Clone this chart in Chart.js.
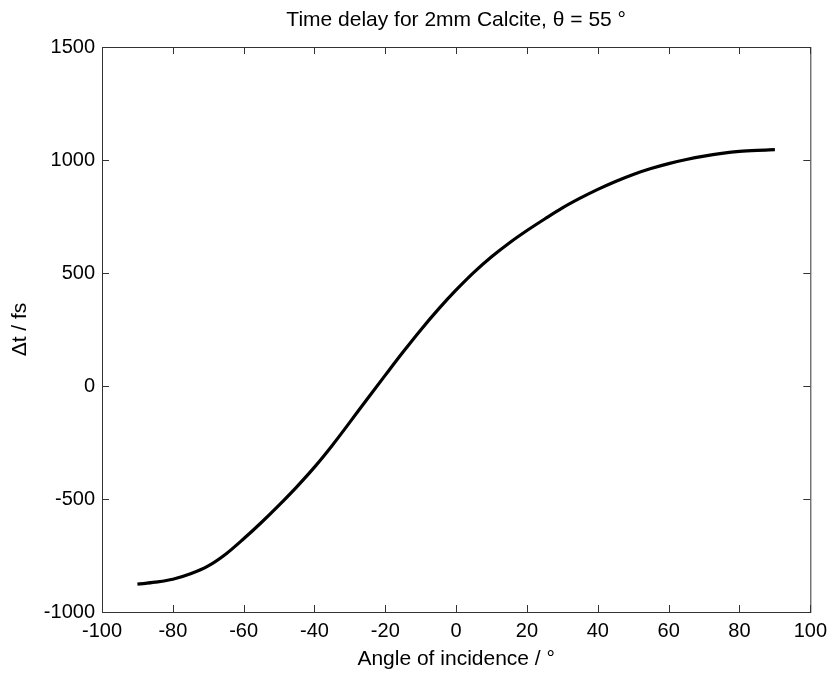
<!DOCTYPE html>
<html>
<head>
<meta charset="utf-8">
<script src="https://cdn.jsdelivr.net/npm/chart.js@4"></script>
<style>
  html, body { margin: 0; padding: 0; background: #fff; }
  #wrap { width: 834px; height: 673px; }
</style>
</head>
<body>
<div id="wrap"><canvas id="myChart" width="834" height="673"></canvas></div>
<script>
// angle of incidence (degrees)
const angles = [-90, -85, -80, -75, -70, -65, -60, -55, -50, -45, -40, -35, -30, -25, -20, -15, -10, -5,
    0, 5, 10, 15, 20, 25, 30, 35, 40, 45, 50, 55, 60, 65, 70, 75, 80, 85, 90];
// time delay (fs)
const delays = [-877, -868, -855, -831, -796, -743, -676, -604, -527, -446, -359, -263, -160, -55, 48, 150, 248, 340,
    425, 503, 572, 633, 688, 739, 788, 831, 870, 905, 936, 962, 984, 1002, 1017, 1029, 1038, 1043, 1046];
const xTicks = [-100, -80, -60, -40, -20, 0, 20, 40, 60, 80, 100];
const yTicks = [-1000, -500, 0, 500, 1000, 1500];

const fontFamily = "'Liberation Sans', Arial, sans-serif";

// matlab style box with inward ticks on all four sides
const boxTicks = {
    id: 'boxTicks',
    afterDraw(chart) {
        const ctx = chart.ctx;
        const area = chart.chartArea;
        const xs = chart.scales.x;
        const ys = chart.scales.y;
        const len = 7;
        ctx.save();
        ctx.strokeStyle = '#333';
        ctx.lineWidth = 1;
        ctx.strokeRect(area.left + 0.5, area.top + 0.5, area.right - area.left, area.bottom - area.top);
        ctx.beginPath();
        xTicks.forEach((v) => {
            const px = Math.round(xs.getPixelForValue(v)) + 0.5;
            ctx.moveTo(px, area.bottom);
            ctx.lineTo(px, area.bottom - len);
            ctx.moveTo(px, area.top);
            ctx.lineTo(px, area.top + len);
        });
        yTicks.forEach((v) => {
            const py = Math.round(ys.getPixelForValue(v)) + 0.5;
            ctx.moveTo(area.left, py);
            ctx.lineTo(area.left + len, py);
            ctx.moveTo(area.right, py);
            ctx.lineTo(area.right - len, py);
        });
        ctx.stroke();
        ctx.restore();
    }
};

function mainEvent() {
    const chartArea = document.querySelector('#myChart');
    const points = angles.map((a, i) => ({ x: a, y: delays[i] }));

    return new Chart(chartArea, {
        type: 'line',
        data: {
            datasets: [{
                data: points,
                borderColor: '#000',
                borderWidth: 3.2,
                pointRadius: 0,
                cubicInterpolationMode: 'monotone',
                fill: false
            }]
        },
        options: {
            responsive: false,
            animation: false,
            layout: { padding: { top: 0, right: 21, left: 0, bottom: 0 } },
            plugins: {
                legend: { display: false },
                tooltip: { enabled: false },
                title: {
                    display: true,
                    text: 'Time delay for 2mm Calcite, \u03B8 = 55 \u00B0',
                    color: '#000',
                    fullSize: false,
                    font: { family: fontFamily, size: 21, weight: 'normal', lineHeight: 1.2 },
                    padding: { top: 7.4, bottom: 14.4 }
                }
            },
            scales: {
                x: {
                    type: 'linear',
                    min: -100,
                    max: 100,
                    afterFit: (scale) => { scale.height = 61; },
                    afterBuildTicks: (scale) => { scale.ticks = xTicks.map((v) => ({ value: v })); },
                    grid: { display: false, drawTicks: false },
                    border: { display: false },
                    ticks: {
                        color: '#000', padding: 7, maxRotation: 0,
                        font: { family: fontFamily, size: 20 },
                        callback: (value) => String(value)
                    },
                    title: {
                        display: true,
                        text: 'Angle of incidence / \u00B0',
                        color: '#000',
                        padding: { top: 0, bottom: 1 },
                        font: { family: fontFamily, size: 21, lineHeight: 1.2 }
                    }
                },
                y: {
                    type: 'linear',
                    min: -1000,
                    max: 1500,
                    afterFit: (scale) => { scale.width = 102; },
                    afterBuildTicks: (scale) => { scale.ticks = yTicks.map((v) => ({ value: v })); },
                    grid: { display: false, drawTicks: false },
                    border: { display: false },
                    ticks: {
                        color: '#000', padding: 7,
                        font: { family: fontFamily, size: 20 },
                        callback: (value) => String(value)
                    },
                    title: {
                        display: true,
                        text: '\u0394t / fs',
                        color: '#000',
                        padding: { top: 7.4, bottom: 0 },
                        font: { family: fontFamily, size: 21, lineHeight: 1.2 }
                    }
                }
            }
        },
        plugins: [boxTicks]
    });
}

document.addEventListener('DOMContentLoaded', () => mainEvent());
</script>
</body>
</html>
